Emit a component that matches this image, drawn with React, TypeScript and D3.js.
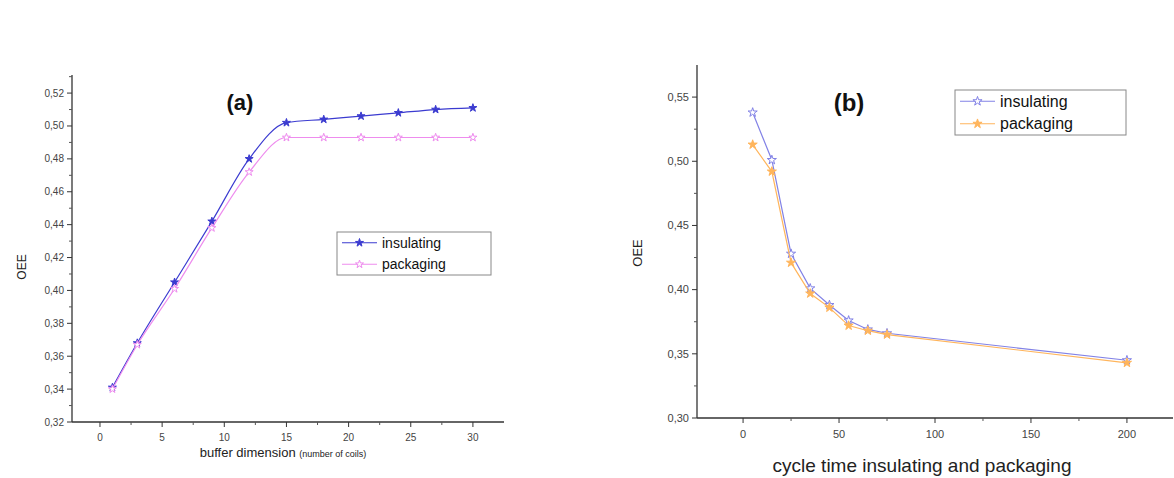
import * as React from 'react'
import * as d3 from 'd3'

// panel (a): OEE vs buffer dimension
const bufferSizes = [1, 3, 6, 9, 12, 15, 18, 21, 24, 27, 30]
const insulatingA = [0.341, 0.368, 0.405, 0.442, 0.48, 0.502, 0.504, 0.506, 0.508, 0.51, 0.511]
const packagingA = [0.34, 0.367, 0.401, 0.438, 0.472, 0.493, 0.493, 0.493, 0.493, 0.493, 0.493]
const xTicksA = [0, 5, 10, 15, 20, 25, 30]
const yTicksA = [0.32, 0.34, 0.36, 0.38, 0.4, 0.42, 0.44, 0.46, 0.48, 0.5, 0.52]

// panel (b): OEE vs cycle time
const cycleTimes = [5, 15, 25, 35, 45, 55, 65, 75, 200]
const insulatingB = [0.538, 0.501, 0.428, 0.401, 0.388, 0.376, 0.369, 0.366, 0.345]
const packagingB = [0.513, 0.492, 0.421, 0.397, 0.386, 0.372, 0.368, 0.365, 0.343]
const xTicksB = [0, 50, 100, 150, 200]
const yTicksB = [0.3, 0.35, 0.4, 0.45, 0.5, 0.55]

const seriesNames = ['insulating', 'packaging']

const font = '"Liberation Sans", Arial, sans-serif'
const commaFmt = (v: number) => d3.format('.2f')(v).replace('.', ',')

interface Series { name: string; values: number[]; color: string; filled: boolean }

interface PanelProps {
  xs: number[]
  series: Series[]
  xDomain: [number, number]
  yDomain: [number, number]
  xRange: [number, number]
  yRange: [number, number]
  xTicks: number[]
  yTicks: number[]
  xMinorStep: number
  yMinorStep: number
  curve: d3.CurveFactory
  markerSize: number
  tickSize: number
  label: string
  labelPos: [number, number]
  labelSize: number
  legendPos: [number, number, number, number]
  legendSize: number
  yTitlePos: [number, number]
  yTitleSize: number
  xTitle: React.ReactNode
}

function Panel(p: PanelProps) {
  const x = d3.scaleLinear().domain(p.xDomain).range(p.xRange)
  const y = d3.scaleLinear().domain(p.yDomain).range(p.yRange)
  const star = d3.symbol().type(d3.symbolStar).size(p.markerSize)

  const minor = (dom: [number, number], step: number, majors: number[]) =>
    d3.range(Math.ceil(dom[0] / step) * step, dom[1], step)
      .filter(v => !majors.some(m => Math.abs(m - v) < step / 10))

  const x0 = p.xRange[0], y0 = p.yRange[0]
  const [lx, ly, lw, lh] = p.legendPos

  return (
    <g>
      {p.series.map(s => {
        const line = d3.line<number>().x((_, i) => x(p.xs[i])).y(v => y(v)).curve(p.curve)
        return (
          <g key={s.name}>
            <path d={line(s.values) || ''} fill="none" stroke={s.color} strokeWidth={1.2} />
            {s.values.map((v, i) => (
              <path key={i} d={star() || ''} transform={`translate(${x(p.xs[i])},${y(v)})`}
                fill={s.filled ? s.color : '#fff'} stroke={s.color} strokeWidth={1} />
            ))}
          </g>
        )
      })}

      {/* axes */}
      <line x1={x0} x2={x0} y1={y0} y2={p.yRange[1]} stroke="#333" strokeWidth={1.3} />
      <line x1={x0} x2={p.xRange[1]} y1={y0} y2={y0} stroke="#333" strokeWidth={1.3} />
      {p.yTicks.map(t => (
        <g key={t}>
          <line x1={x0 - 5} x2={x0} y1={y(t)} y2={y(t)} stroke="#333" />
          <text x={x0 - 8} y={y(t)} dy="0.35em" textAnchor="end" fontSize={p.tickSize} fill="#444" fontFamily={font}>{commaFmt(t)}</text>
        </g>
      ))}
      {minor(p.yDomain, p.yMinorStep, p.yTicks).map(t => (
        <line key={t} x1={x0 - 3} x2={x0} y1={y(t)} y2={y(t)} stroke="#555" />
      ))}
      {p.xTicks.map(t => (
        <g key={t}>
          <line x1={x(t)} x2={x(t)} y1={y0} y2={y0 + 5} stroke="#333" />
          <text x={x(t)} y={y0 + 12} dy="0.71em" textAnchor="middle" fontSize={p.tickSize} fill="#444" fontFamily={font}>{t}</text>
        </g>
      ))}
      {minor(p.xDomain, p.xMinorStep, p.xTicks).map(t => (
        <line key={t} x1={x(t)} x2={x(t)} y1={y0} y2={y0 + 3} stroke="#555" />
      ))}

      <text x={p.labelPos[0]} y={p.labelPos[1]} fontSize={p.labelSize} fontWeight="bold" fontFamily={font} fill="#111" textAnchor="middle">{p.label}</text>
      <text transform={`translate(${p.yTitlePos[0]},${p.yTitlePos[1]}) rotate(-90)`} textAnchor="middle" fontSize={p.yTitleSize} fontFamily={font} fill="#222">OEE</text>
      {p.xTitle}

      {/* legend */}
      <rect x={lx} y={ly} width={lw} height={lh} fill="#fff" stroke="#888" strokeWidth={1} />
      {p.series.map((s, i) => {
        const cy = ly + lh * (i + 0.5) / p.series.length
        return (
          <g key={s.name}>
            <line x1={lx + 5} x2={lx + 40} y1={cy} y2={cy} stroke={s.color} strokeWidth={1.2} />
            <path d={star() || ''} transform={`translate(${lx + 22.5},${cy})`} fill={s.filled ? s.color : '#fff'} stroke={s.color} />
            <text x={lx + 45} y={cy} dy="0.35em" fontSize={p.legendSize} fontFamily={font} fill="#111">{s.name}</text>
          </g>
        )
      })}
    </g>
  )
}

export default function App() {
  return (
    <svg width={1174} height={478} style={{ position: 'absolute', left: 0, top: 0, background: '#fff' }}>
      <Panel
        xs={bufferSizes}
        series={[
          { name: seriesNames[0], values: insulatingA, color: '#3b3bd0', filled: true },
          { name: seriesNames[1], values: packagingA, color: '#ee8cee', filled: false },
        ]}
        xDomain={[-2.25, 32.5]} yDomain={[0.32, 0.531]}
        xRange={[72, 504]} yRange={[422, 75]}
        xTicks={xTicksA} yTicks={yTicksA} xMinorStep={2.5} yMinorStep={0.01}
        curve={d3.curveMonotoneX}
        markerSize={20}
        tickSize={10}
        label="(a)" labelPos={[240, 110]} labelSize={22}
        legendPos={[337, 232, 154, 43]} legendSize={14}
        yTitlePos={[26, 267]} yTitleSize={12}
        xTitle={
          <text x={283} y={457} textAnchor="middle" fontFamily={font} fill="#222">
            <tspan fontSize={13}>buffer dimension </tspan>
            <tspan fontSize={9}>(number of coils)</tspan>
          </text>
        }
      />
      <Panel
        xs={cycleTimes}
        series={[
          { name: seriesNames[0], values: insulatingB, color: '#8282e6', filled: false },
          { name: seriesNames[1], values: packagingB, color: '#ffb55c', filled: true },
        ]}
        xDomain={[-24, 224]} yDomain={[0.3, 0.575]}
        xRange={[697, 1173]} yRange={[418, 65]}
        xTicks={xTicksB} yTicks={yTicksB} xMinorStep={25} yMinorStep={0.025}
        curve={d3.curveLinear}
        markerSize={26}
        tickSize={11}
        label="(b)" labelPos={[849, 111]} labelSize={24}
        legendPos={[955, 90, 171, 45]} legendSize={16}
        yTitlePos={[642, 253]} yTitleSize={13}
        xTitle={
          <text x={922} y={472} textAnchor="middle" fontFamily={font} fontSize={19} fill="#222">cycle time insulating and packaging</text>
        }
      />
    </svg>
  )
}
